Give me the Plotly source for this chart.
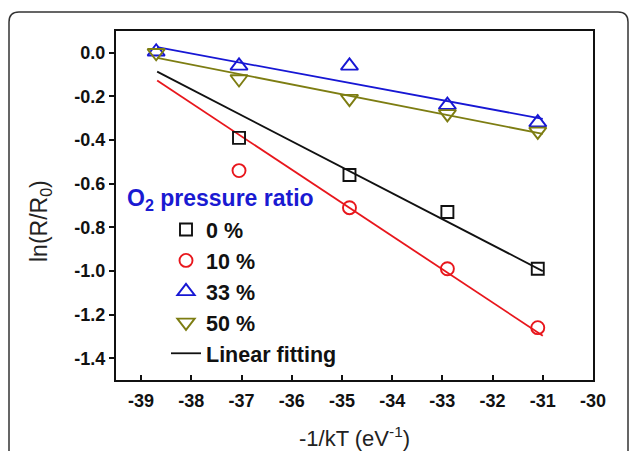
import numpy as np
import plotly.graph_objects as go

# ---- data ----
inv_kT = [-38.7, -37.05, -34.85, -32.9, -31.1]
ratio_0 = [0.0, -0.39, -0.56, -0.73, -0.99]
ratio_10 = [0.0, -0.54, -0.71, -0.99, -1.26]
ratio_33 = [0.005, -0.06, -0.06, -0.24, -0.32]
ratio_50 = [0.0, -0.12, -0.21, -0.28, -0.36]
series_names = ["0 %", "10 %", "33 %", "50 %"]
fit_start, fit_end = -38.68, -31.0

x_tick_vals = [-39, -38, -37, -36, -35, -34, -33, -32, -31, -30]
x_tick_text = ["-39", "-38", "-37", "-36", "-35", "-34", "-33", "-32", "-31", "-30"]
y_tick_vals = [0.0, -0.2, -0.4, -0.6, -0.8, -1.0, -1.2, -1.4]
y_tick_text = ["0.0", "-0.2", "-0.4", "-0.6", "-0.8", "-1.0", "-1.2", "-1.4"]

FONT = "Liberation Sans, Arial, sans-serif"
colors = ["#111111", "#e8161c", "#1717d4", "#7d7d12"]
symbols = ["square-open", "circle-open", "triangle-up-open", "triangle-down-open"]
sizes = [12, 13, 15, 15]
all_series = [ratio_0, ratio_10, ratio_33, ratio_50]
# the normalisation point (R = R0) is hidden under the triangles for 0 % and 10 %
first_idx = [1, 1, 0, 0]

fig = go.Figure()

# fitted lines (computed from data)
for i, ys in enumerate(all_series):
    k, b = np.polyfit(inv_kT, ys, 1)
    xs = np.array([fit_start, fit_end])
    fig.add_trace(go.Scatter(
        x=xs, y=k * xs + b, mode="lines",
        line=dict(color=colors[i], width=1.8),
        name="Linear fitting", showlegend=(i == 0),
        legendrank=1000,
    ))

for i, ys in enumerate(all_series):
    s = first_idx[i]
    fig.add_trace(go.Scatter(
        x=inv_kT[s:], y=ys[s:], mode="markers", name=series_names[i],
        marker=dict(symbol=symbols[i], size=sizes[i], color=colors[i],
                    line=dict(width=1.9, color=colors[i])),
        legendrank=i + 1,
    ))

# outer rounded frame around the figure (paper coordinates)
pw, ph = 477.0, 349.0
def px_x(p):
    return (p - 116) / pw
def px_y(p):
    return (380 - p) / ph
x0, x1 = px_x(9), px_x(628)
y0, y1 = px_y(470), px_y(12)
rx, ry = 10 / pw, 10 / ph
path = (f"M {x0},{y0} L {x0},{y1 - ry} Q {x0},{y1} {x0 + rx},{y1} "
        f"L {x1 - rx},{y1} Q {x1},{y1} {x1},{y1 - ry} L {x1},{y0}")
fig.add_shape(type="path", path=path, xref="paper", yref="paper",
              line=dict(color="#333333", width=1.5), layer="below")

fig.add_annotation(
    text="<b>O<sub>2</sub> pressure ratio</b>", xref="paper", yref="paper",
    x=px_x(125), y=px_y(199), xanchor="left", yanchor="middle",
    showarrow=False, font=dict(family=FONT, size=23, color="#1a1ad2"),
)
# y-axis title
fig.add_annotation(
    text="ln(R/R<sub>0</sub>)", xref="paper", yref="paper",
    x=px_x(40), y=px_y(221), xanchor="center", yanchor="middle", textangle=-90,
    showarrow=False, font=dict(family=FONT, size=23, color="#222222"),
)

fig.update_layout(
    width=630, height=451,
    margin=dict(l=116, r=37, t=31, b=71),
    paper_bgcolor="white", plot_bgcolor="white",
    font=dict(family=FONT, color="#111111"),
    legend=dict(
        x=px_x(166), y=px_y(209), xanchor="left", yanchor="top",
        font=dict(family=FONT, size=21.5, color="#111111", weight="bold"),
        bgcolor="rgba(0,0,0,0)", tracegroupgap=0, itemwidth=30,
    ),
    showlegend=True,
)
fig.update_xaxes(
    range=[-39.5, -30], tickvals=x_tick_vals, ticktext=x_tick_text,
    ticks="inside", ticklen=5, tickwidth=1.8, tickcolor="#111111",
    showline=True, linewidth=2, linecolor="#111111", mirror=True,
    showgrid=False, zeroline=False, automargin=False, ticklabelstandoff=3,
    tickfont=dict(family=FONT, size=18, weight="bold", color="#111111"),
    title=dict(text="-1/kT (eV<sup>-1</sup>)", font=dict(family=FONT, size=22, color="#222222"),
               standoff=22),
)
fig.update_yaxes(
    range=[-1.5, 0.1], tickvals=y_tick_vals, ticktext=y_tick_text,
    ticks="outside", ticklen=5, tickwidth=1.8, tickcolor="#111111",
    showline=True, linewidth=2, linecolor="#111111", mirror=True,
    showgrid=False, zeroline=False, automargin=False,
    tickfont=dict(family=FONT, size=18, weight="bold", color="#111111"),
)

fig.write_html("out.html")
